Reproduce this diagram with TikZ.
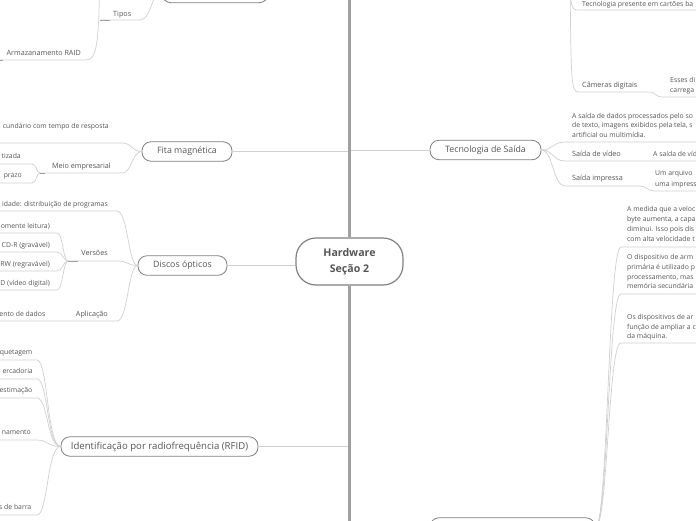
\documentclass[tikz,border=0pt]{standalone}
\usepackage{fontspec}
\setmainfont{Open Sans}
\definecolor{txt}{HTML}{555555}
\definecolor{bx}{HTML}{808080}
\definecolor{ln}{HTML}{D0D0D0}
\definecolor{stub}{HTML}{A0A0A0}
\definecolor{spinec}{HTML}{A0A0A0}
\begin{document}
\begin{tikzpicture}[x=1pt,y=-1pt,
  mainbox/.style={draw=bx, line width=0.8pt, rounded corners=9pt, minimum height=19.5pt, inner sep=0pt, text=txt, font=\fontsize{8.8}{10}\selectfont},
  lbl/.style={inner sep=0pt, text=txt, font=\fontsize{7.2}{9.5}\selectfont},
  edge/.style={inner sep=0pt, text=txt, font=\fontsize{6.85}{9.5}\selectfont},
  para/.style={edge, align=left, anchor=north west},
  conn/.style={draw=ln, line width=0.7pt},
  stubl/.style={draw=stub, line width=1pt},
  spine/.style={draw=spinec, line width=2.4pt}]
\useasboundingbox (0,0) rectangle (696,520);
\clip (0,0) rectangle (696,520);

% ---------- central ----------
\node[draw=bx, line width=1.2pt, rounded corners=20pt, minimum width=107pt, minimum height=47pt,
      align=center, inner sep=0pt, text=txt, font=\bfseries\fontsize{10.6}{15.5}\selectfont] (hw) at (349.5,261.5) {Hardware\\Seção 2};

% ---------- left: top box ----------
\node[mainbox, minimum width=106pt] (armz) at (215,-7) {};
\node[lbl, anchor=base west] (tipos) at (113,16.5) {Tipos};
\coordinate (tiposL) at (100,20);
\draw[conn] (armz.west) .. controls (151,-7) and (151,20) .. (140,20) -- (tiposL);
\draw[stubl] (tiposL) -- (110,20);
\node[lbl, anchor=base east] (raid) at (81,55.5) {Armazanamento RAID};
\coordinate (raidP) at (100,-40);
\coordinate (raidL) at (-2,60);
\draw[conn] (raidP) .. controls (99,40) and (98,60) .. (86,60) -- (raidL);
\draw[stubl] (-1,60) -- (3,60);

% ---------- Fita magnetica ----------
\node[mainbox, minimum width=90pt] (fita) at (187,151.5) {Fita magnética};
\node[edge, anchor=base east] (f1) at (109,128.5) {cundário com tempo de resposta};
\node[lbl, anchor=base east] (meio) at (111,168.5) {Meio empresarial};
\node[edge, anchor=base east] (m1) at (21,158.5) {tizada};
\node[edge, anchor=base east] (m2) at (22,177.5) {prazo};
\coordinate (meioL) at (40,173);
\draw[conn] (fita.west) .. controls (132,151.5) and (132,143) .. (122,143) -- (-2,143);
\draw[conn] (fita.west) .. controls (132,151.5) and (132,173) .. (122,173) -- (meioL);
\draw[stubl] (meioL) -- (45,173);
\draw[conn] (meioL) .. controls (36,173) and (37,164) .. (32,164) -- (-2,164);
\draw[conn] (meioL) .. controls (36,173) and (37,183) .. (32,183) -- (-2,183);

% ---------- Discos opticos ----------
\node[mainbox, minimum width=89pt] (disc) at (182.5,265.5) {Discos ópticos};
\node[edge, anchor=base east] (d1) at (108,206.5) {idade: distribuição de programas};
\node[lbl, anchor=base east] (vers) at (108,255.5) {Versões};
\node[edge, anchor=base east] (v1) at (50,228.5) {omente leitura)};
\node[edge, anchor=base east] (v2) at (50,247) {CD-R (gravável)};
\node[edge, anchor=base east] (v3) at (50,266) {RW (regravável)};
\node[edge, anchor=base east] (v4) at (50,285) {D (vídeo digital)};
\node[lbl, anchor=base east] (apl) at (108,316.5) {Aplicação};
\node[edge, anchor=base east] (a1) at (45.5,316.5) {ento de dados};
\coordinate (versL) at (68,261);
\draw[conn] (disc.west) .. controls (128,265.5) and (128,211) .. (117,211) -- (-2,211);
\draw[conn] (disc.west) .. controls (128,265.5) and (128,261) .. (117,261) -- (versL);
\draw[conn] (disc.west) .. controls (128,265.5) and (128,321) .. (117,321) -- (-2,321);
\draw[stubl] (versL) -- (78,261);
\foreach \yy in {233,252,271,290}
  \draw[conn] (versL) .. controls (63,261) and (63,\yy) .. (57,\yy) -- (-2,\yy);

% ---------- RFID ----------
\node[mainbox, minimum width=197pt, font=\fontsize{9.6}{10}\selectfont] (rfid) at (159.5,446.5) {Identificação por radiofrequência (RFID)};
\node[edge, anchor=base east] (r1) at (32.5,354.5) {quetagem};
\node[edge, anchor=base east] (r2) at (33,373.5) {ercadoria};
\node[edge, anchor=base east] (r3) at (32.5,392.5) {estimação};
\node[edge, anchor=base east] (r4) at (31,434.5) {namento};
\node[edge, anchor=base east] (r5) at (31.5,509.5) {s de barra};
\foreach \yy in {360,379,398,440,515}
  \draw[conn] (rfid.west) .. controls (47,446.5) and (48,\yy) .. (37,\yy) -- (-2,\yy);

% ---------- connectors to the spine ----------
\draw[conn] (fita.east) -- (349.5,151.5);
\draw[conn] (disc.east) -- (hw.west |- disc.east);
\draw[conn] (rfid.east) -- (349.5,446.5);

% ---------- right: Tecnologia de Saida ----------
\node[mainbox, minimum width=111pt] (tec) at (485.5,150) {Tecnologia de Saída};
\draw[conn] (349.5,150) -- (tec.west);
\node[para, font=\fontsize{6.85}{9.2}\selectfont] (t1) at (572,113) {\rule{0pt}{5.5pt}A saída de dados processados pelo so\\de texto, imagens exibidos pela tela, s\\artificial ou multimídia.};
\node[lbl, anchor=base west] (tv) at (572,156.5) {Saída de vídeo};
\node[edge, anchor=base west] (tv1) at (653,156.5) {A saída de víd};
\node[lbl, anchor=base west] (ti) at (572,180.5) {Saída impressa};
\node[para, font=\fontsize{6.85}{11}\selectfont] (ti1) at (655,169.7) {\rule{0pt}{5.5pt}Um arquivo\\uma impress};
\draw[conn] (tec.east) .. controls (553,150) and (553,142) .. (565,142) -- (698,142);
\draw[conn] (tec.east) .. controls (553,150) and (553,161) .. (565,161) -- (698,161);
\draw[conn] (tec.east) .. controls (553,150) and (553,186) .. (565,186) -- (640,186) .. controls (647,186) and (647,191) .. (655,191) -- (698,191);

% ---------- right: top ----------
\node[edge, anchor=base west] (cb) at (582,6) {Tecnologia presente em cartões ba};
\node[lbl, anchor=base west] (cam) at (582,87.5) {Câmeras digitais};
\node[para, font=\fontsize{6.85}{10}\selectfont] (cam1) at (670,77) {\rule{0pt}{5.5pt}Esses di\\carrega};
\coordinate (topP) at (570,-30);
\draw[conn] (topP) .. controls (570,5) and (571,10) .. (578,10) -- (698,10);
\draw[conn] (topP) .. controls (571,80) and (571,92) .. (578,92) -- (650,92) .. controls (655,92) and (656,97) .. (662,97) -- (698,97);

% ---------- right: lower ----------
\node[mainbox, minimum width=165pt] (brb) at (512.5,527.5) {};
\node[para, font=\fontsize{6.85}{10}\selectfont] (b1) at (627,206) {\rule{0pt}{5.5pt}A medida que a veloc\\byte aumenta, a capa\\diminui. Isso pois dis\\com alta velocidade t};
\node[para, font=\fontsize{6.85}{9.8}\selectfont] (b2) at (627,253.7) {\rule{0pt}{5.5pt}O dispositivo de arm\\primária é utilizado p\\processamento, mas\\memória secundária};
\node[para, font=\fontsize{6.85}{9.6}\selectfont] (b3) at (627,313.7) {\rule{0pt}{5.5pt}Os dispositivos de ar\\função de ampliar a c\\da máquina.};
\foreach \yy in {247,294,343}
  \draw[conn] (brb.east) .. controls (608,527.5) and (608,\yy) .. (621,\yy) -- (698,\yy);

% ---------- spine ----------
\draw[spine] (349.5,-3) -- (hw.north);
\draw[spine] (hw.south) -- (349.5,523);
\end{tikzpicture}
\end{document}
